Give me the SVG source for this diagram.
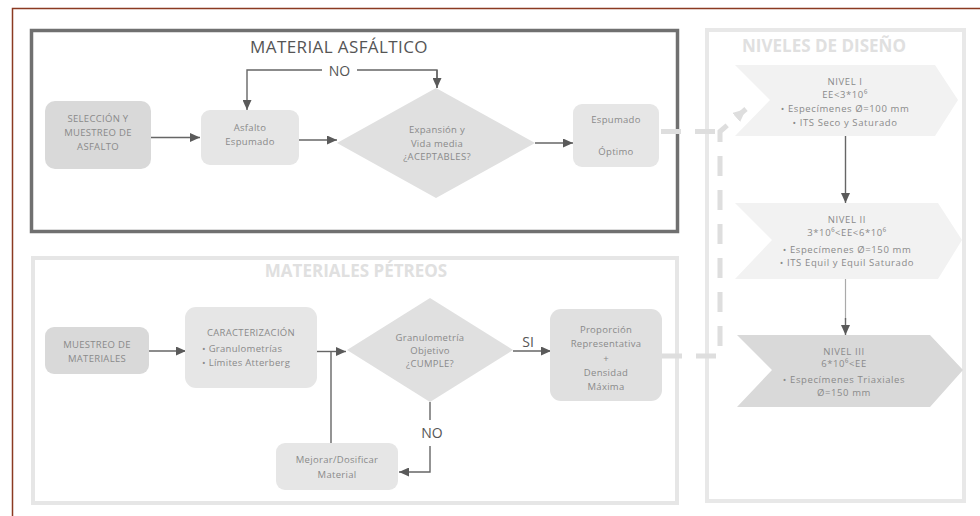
<svg xmlns="http://www.w3.org/2000/svg" width="980" height="516" viewBox="0 0 980 516">
<defs>
<marker id="ah" markerUnits="userSpaceOnUse" markerWidth="11" markerHeight="9" refX="10" refY="4.5" orient="auto-start-reverse"><path d="M0,0 L10,4.5 L0,9 z" fill="#5a5a5a"/></marker>
<marker id="ahl" markerUnits="userSpaceOnUse" markerWidth="14" markerHeight="12" refX="13" refY="6" orient="auto"><path d="M0,0 L13,6 L0,12 z" fill="#dedede"/></marker>
<style>
.t{font-family:"Open Sans","Liberation Sans",sans-serif;font-size:9.5px;letter-spacing:0.3px;fill:#8a8a8a;text-anchor:middle}
.s{text-anchor:start}
.n{letter-spacing:0.6px}
.c{stroke:#666;stroke-width:1.4;fill:none}
.dk{fill:#d9d9d9}
.lt{fill:#e6e6e6}
.lbl{font-family:"Open Sans","Liberation Sans",sans-serif;font-size:14px;fill:#555;text-anchor:middle}
.h{font-family:"Open Sans","Liberation Sans",sans-serif;font-size:17px;font-weight:bold;fill:#e0e0e0;text-anchor:middle}
</style>
</defs>
<rect width="980" height="516" fill="#fff"/>
<path d="M12.5,516 V8.5 H980" fill="none" stroke="#8b3a22" stroke-width="1.5"/>

<g id="frames">
<rect x="31.5" y="30.5" width="646" height="201" fill="none" stroke="#707070" stroke-width="3.5"/>
<rect x="33" y="258" width="644" height="245" fill="none" stroke="#e6e6e6" stroke-width="4"/>
<rect x="707" y="30" width="257" height="471" fill="none" stroke="#e8e8e8" stroke-width="4"/>
<text x="339" y="53" font-family="Open Sans, Liberation Sans, sans-serif" font-size="17" letter-spacing="0.4" fill="#555" text-anchor="middle">MATERIAL ASFÁLTICO</text>
<text class="h" x="356" y="277">MATERIALES PÉTREOS</text>
<text class="h" x="824" y="52">NIVELES DE DISEÑO</text>
</g>

<g id="connectors">
<path class="c" d="M151,137.5 H200" marker-end="url(#ah)"/>
<path class="c" d="M299,140 H337" marker-end="url(#ah)"/>
<path class="c" d="M437,88 V70 H357 M322,70 H247 V110" marker-end="url(#ah)"/>
<path class="c" d="M437,70 V88" marker-end="url(#ah)"/>
<text class="lbl" x="339.5" y="75.5">NO</text>
<path class="c" d="M535,143 H573" marker-end="url(#ah)"/>
<path class="c" d="M845.5,136 V203" marker-end="url(#ah)"/>
<path d="M845.5,279 V320" stroke="#aaa" stroke-width="1.2" fill="none"/>
<path class="c" d="M845.5,318 V335" marker-end="url(#ah)"/>
<path class="c" d="M149,351 H186" marker-end="url(#ah)"/>
<path class="c" d="M317,351.5 H346" marker-end="url(#ah)"/>
<path class="c" d="M331,351.5 V443"/>
<path class="c" d="M513,351 H551" marker-end="url(#ah)"/>
<text class="lbl" x="528" y="347">SI</text>
<path class="c" d="M430,402 V420 M430,446 V472 H399" marker-end="url(#ah)"/>
<text class="lbl" x="432" y="438">NO</text>
<path d="M661,131.5 H720 M662,356 H720 V131.5 L746,109" fill="none" stroke="#dedede" stroke-width="5" stroke-dasharray="20 14" marker-end="url(#ahl)"/>
</g>

<g id="n1">
<rect class="dk" x="45" y="101" width="106" height="68" rx="10"/>
<text class="t" x="98" y="122">SELECCIÓN Y</text>
<text class="t" x="98" y="136">MUESTREO DE</text>
<text class="t" x="98" y="150">ASFALTO</text>
</g>
<g id="n2">
<rect class="lt" x="201" y="110" width="98" height="55" rx="9"/>
<text class="t" x="250" y="131">Asfalto</text>
<text class="t" x="250" y="145">Espumado</text>
</g>
<g id="n3">
<path d="M337,143 L436,88 L535,143 L436,198 z" fill="#e0e0e0"/>
<text class="t" x="437" y="133">Expansión y</text>
<text class="t" x="437" y="147">Vida media</text>
<text class="t" x="437" y="160" fill="#777">¿ACEPTABLES?</text>
</g>
<g id="n4">
<rect class="lt" x="573" y="104" width="86" height="63" rx="9"/>
<text class="t" x="616" y="123">Espumado</text>
<text class="t" x="616" y="155" fill="#666">Óptimo</text>
</g>

<g id="n5">
<path d="M735,65 H935 L958,100 L935,136 H735 L770,100 z" fill="#f2f2f2"/>
<text class="t n" x="845" y="85">NIVEL I</text>
<text class="t n" x="845" y="98">EE&lt;3*10⁶</text>
<text class="t n" x="845" y="112" fill="#666">• Especímenes Ø=100 mm</text>
<text class="t n" x="845" y="126">• ITS Seco y Saturado</text>
</g>
<g id="n6">
<path d="M735,203 H938 L962,240 L938,279 H735 L772,240 z" fill="#f2f2f2"/>
<text class="t n" x="847" y="223">NIVEL II</text>
<text class="t n" x="847" y="236">3*10⁶&lt;EE&lt;6*10⁶</text>
<text class="t n" x="847" y="253" fill="#666">• Especímenes Ø=150 mm</text>
<text class="t n" x="847" y="266">• ITS Equil y Equil Saturado</text>
</g>
<g id="n7">
<path d="M737,335 H930 L963,370 L930,407 H737 L772,370 z" fill="#d9d9d9"/>
<text class="t n" x="844" y="355">NIVEL III</text>
<text class="t n" x="844" y="367">6*10⁶&lt;EE</text>
<text class="t n" x="844" y="383">• Especímenes Triaxiales</text>
<text class="t n" x="844" y="396">Ø=150 mm</text>
</g>

<g id="n8">
<rect class="dk" x="45" y="327" width="104" height="47" rx="9"/>
<text class="t" x="97" y="348">MUESTREO DE</text>
<text class="t" x="97" y="362">MATERIALES</text>
</g>
<g id="n9">
<rect class="lt" x="185" y="307" width="132" height="81" rx="11"/>
<text class="t" x="251" y="336">CARACTERIZACIÓN</text>
<text class="t s" x="202" y="352">•  Granulometrías</text>
<text class="t s" x="202" y="366">•  Límites Atterberg</text>
</g>
<g id="n10">
<path d="M347,350 L430,298 L513,350 L430,402 z" fill="#e0e0e0"/>
<text class="t" x="430" y="341">Granulometría</text>
<text class="t" x="430" y="354">Objetivo</text>
<text class="t" x="430" y="367">¿CUMPLE?</text>
</g>
<g id="n11">
<rect fill="#e0e0e0" x="550" y="309" width="112" height="92" rx="11"/>
<text class="t" x="606" y="333">Proporción</text>
<text class="t" x="606" y="347">Representativa</text>
<text class="t" x="606" y="362">+</text>
<text class="t" x="606" y="376">Densidad</text>
<text class="t" x="606" y="390">Máxima</text>
</g>
<g id="n12">
<rect class="lt" x="276" y="443" width="122" height="47" rx="9"/>
<text class="t" x="337" y="463">Mejorar/Dosificar</text>
<text class="t" x="337" y="478">Material</text>
</g>
</svg>
